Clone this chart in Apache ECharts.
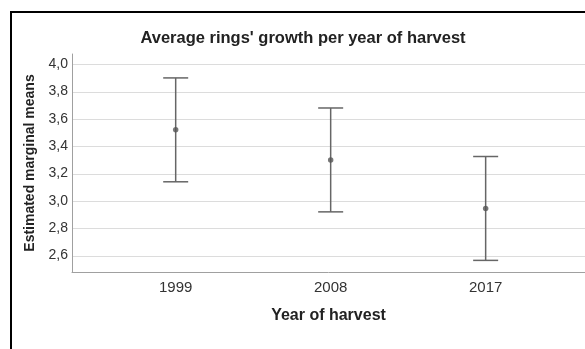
<!DOCTYPE html>
<html>
<head>
<meta charset="utf-8">
<script src="https://cdn.jsdelivr.net/npm/echarts@6/dist/echarts.min.js"></script>
<style>
  html, body { margin: 0; padding: 0; background: #fff; }
  #chart { width: 585px; height: 349px; }
</style>
</head>
<body>
<div id="chart"></div>
<script>
// Estimated marginal means with 95% confidence intervals
const categories = ['1999', '2008', '2017'];
const means = [3.52, 3.30, 2.945];
const lowerCI = [3.14, 2.92, 2.565];
const upperCI = [3.90, 3.68, 3.325];
const yTicks = [2.6, 2.8, 3.0, 3.2, 3.4, 3.6, 3.8, 4.0];

const FONT = '"Liberation Sans", Arial, sans-serif';
const fmtComma = v => Number(v).toFixed(1).replace('.', ',');

const chart = echarts.init(document.getElementById('chart'), null, { renderer: 'canvas' });

const option = {
  backgroundColor: '#fff',
  animation: false,
  textStyle: { fontFamily: FONT },
  title: {
    text: "Average rings' growth per year of harvest",
    left: 303,
    top: 30,
    padding: 0,
    textAlign: 'center',
    textStyle: { fontFamily: FONT, fontSize: 16.5, fontWeight: 'bold', color: '#222' }
  },
  grid: { left: 72, right: 0, top: 54, bottom: 77, containLabel: false },
  xAxis: {
    type: 'value',
    min: -0.669,
    max: 2.641,
    name: 'Year of harvest',
    nameLocation: 'middle',
    nameGap: 36,
    nameTextStyle: { fontFamily: FONT, fontSize: 16, fontWeight: 'bold', color: '#222' },
    axisLine: { show: true, onZero: false, lineStyle: { color: '#a0a0a0', width: 1 } },
    axisTick: { show: false },
    splitLine: { show: false },
    axisLabel: {
      customValues: categories.map((c, i) => i),
      formatter: v => categories[Math.round(v)],
      fontFamily: FONT, fontSize: 15, color: '#333', margin: 8
    }
  },
  yAxis: {
    type: 'value',
    min: 2.48,
    max: 4.075,
    name: 'Estimated marginal means',
    nameLocation: 'middle',
    nameGap: 34,
    nameRotate: 90,
    nameTextStyle: { fontFamily: FONT, fontSize: 14, fontWeight: 'bold', color: '#222' },
    axisLine: { show: true, onZero: false, lineStyle: { color: '#a0a0a0', width: 1 } },
    axisTick: { show: false },
    splitLine: { show: false },
    axisLabel: {
      customValues: yTicks,
      formatter: fmtComma,
      fontFamily: FONT, fontSize: 14, color: '#333', margin: 4
    }
  },
  graphic: [{
    type: 'rect',
    shape: { x: 11, y: 12, width: 640, height: 420 },
    style: { fill: 'none', stroke: '#000', lineWidth: 2 },
    silent: true,
    z: 100
  }],
  series: [
    {
      // horizontal reference lines at each labelled value
      type: 'custom',
      silent: true,
      z: 0,
      data: yTicks.map(v => [v]),
      renderItem: function (params, api) {
        const v = api.value(0);
        const cs = params.coordSys;
        const y = Math.round(api.coord([0, v])[1]) + 0.5;
        return {
          type: 'line',
          shape: { x1: cs.x + 1, y1: y, x2: cs.x + cs.width, y2: y },
          style: { stroke: '#dcdcdc', lineWidth: 1 }
        };
      }
    },
    {
      type: 'custom',
      z: 3,
      data: categories.map((c, i) => [i, lowerCI[i], upperCI[i]]),
      renderItem: function (params, api) {
        const x = api.value(0);
        const lo = api.coord([x, api.value(1)]);
        const hi = api.coord([x, api.value(2)]);
        const cap = 12.5;
        const style = { stroke: '#666', lineWidth: 1.5 };
        return {
          type: 'group',
          children: [
            { type: 'line', shape: { x1: hi[0], y1: hi[1], x2: lo[0], y2: lo[1] }, style },
            { type: 'line', shape: { x1: hi[0] - cap, y1: hi[1], x2: hi[0] + cap, y2: hi[1] }, style },
            { type: 'line', shape: { x1: lo[0] - cap, y1: lo[1], x2: lo[0] + cap, y2: lo[1] }, style }
          ]
        };
      }
    },
    {
      type: 'scatter',
      z: 4,
      symbol: 'circle',
      symbolSize: 5.5,
      itemStyle: { color: '#555' },
      data: means.map((m, i) => [i, m])
    }
  ]
};

chart.setOption(option);
</script>
</body>
</html>
